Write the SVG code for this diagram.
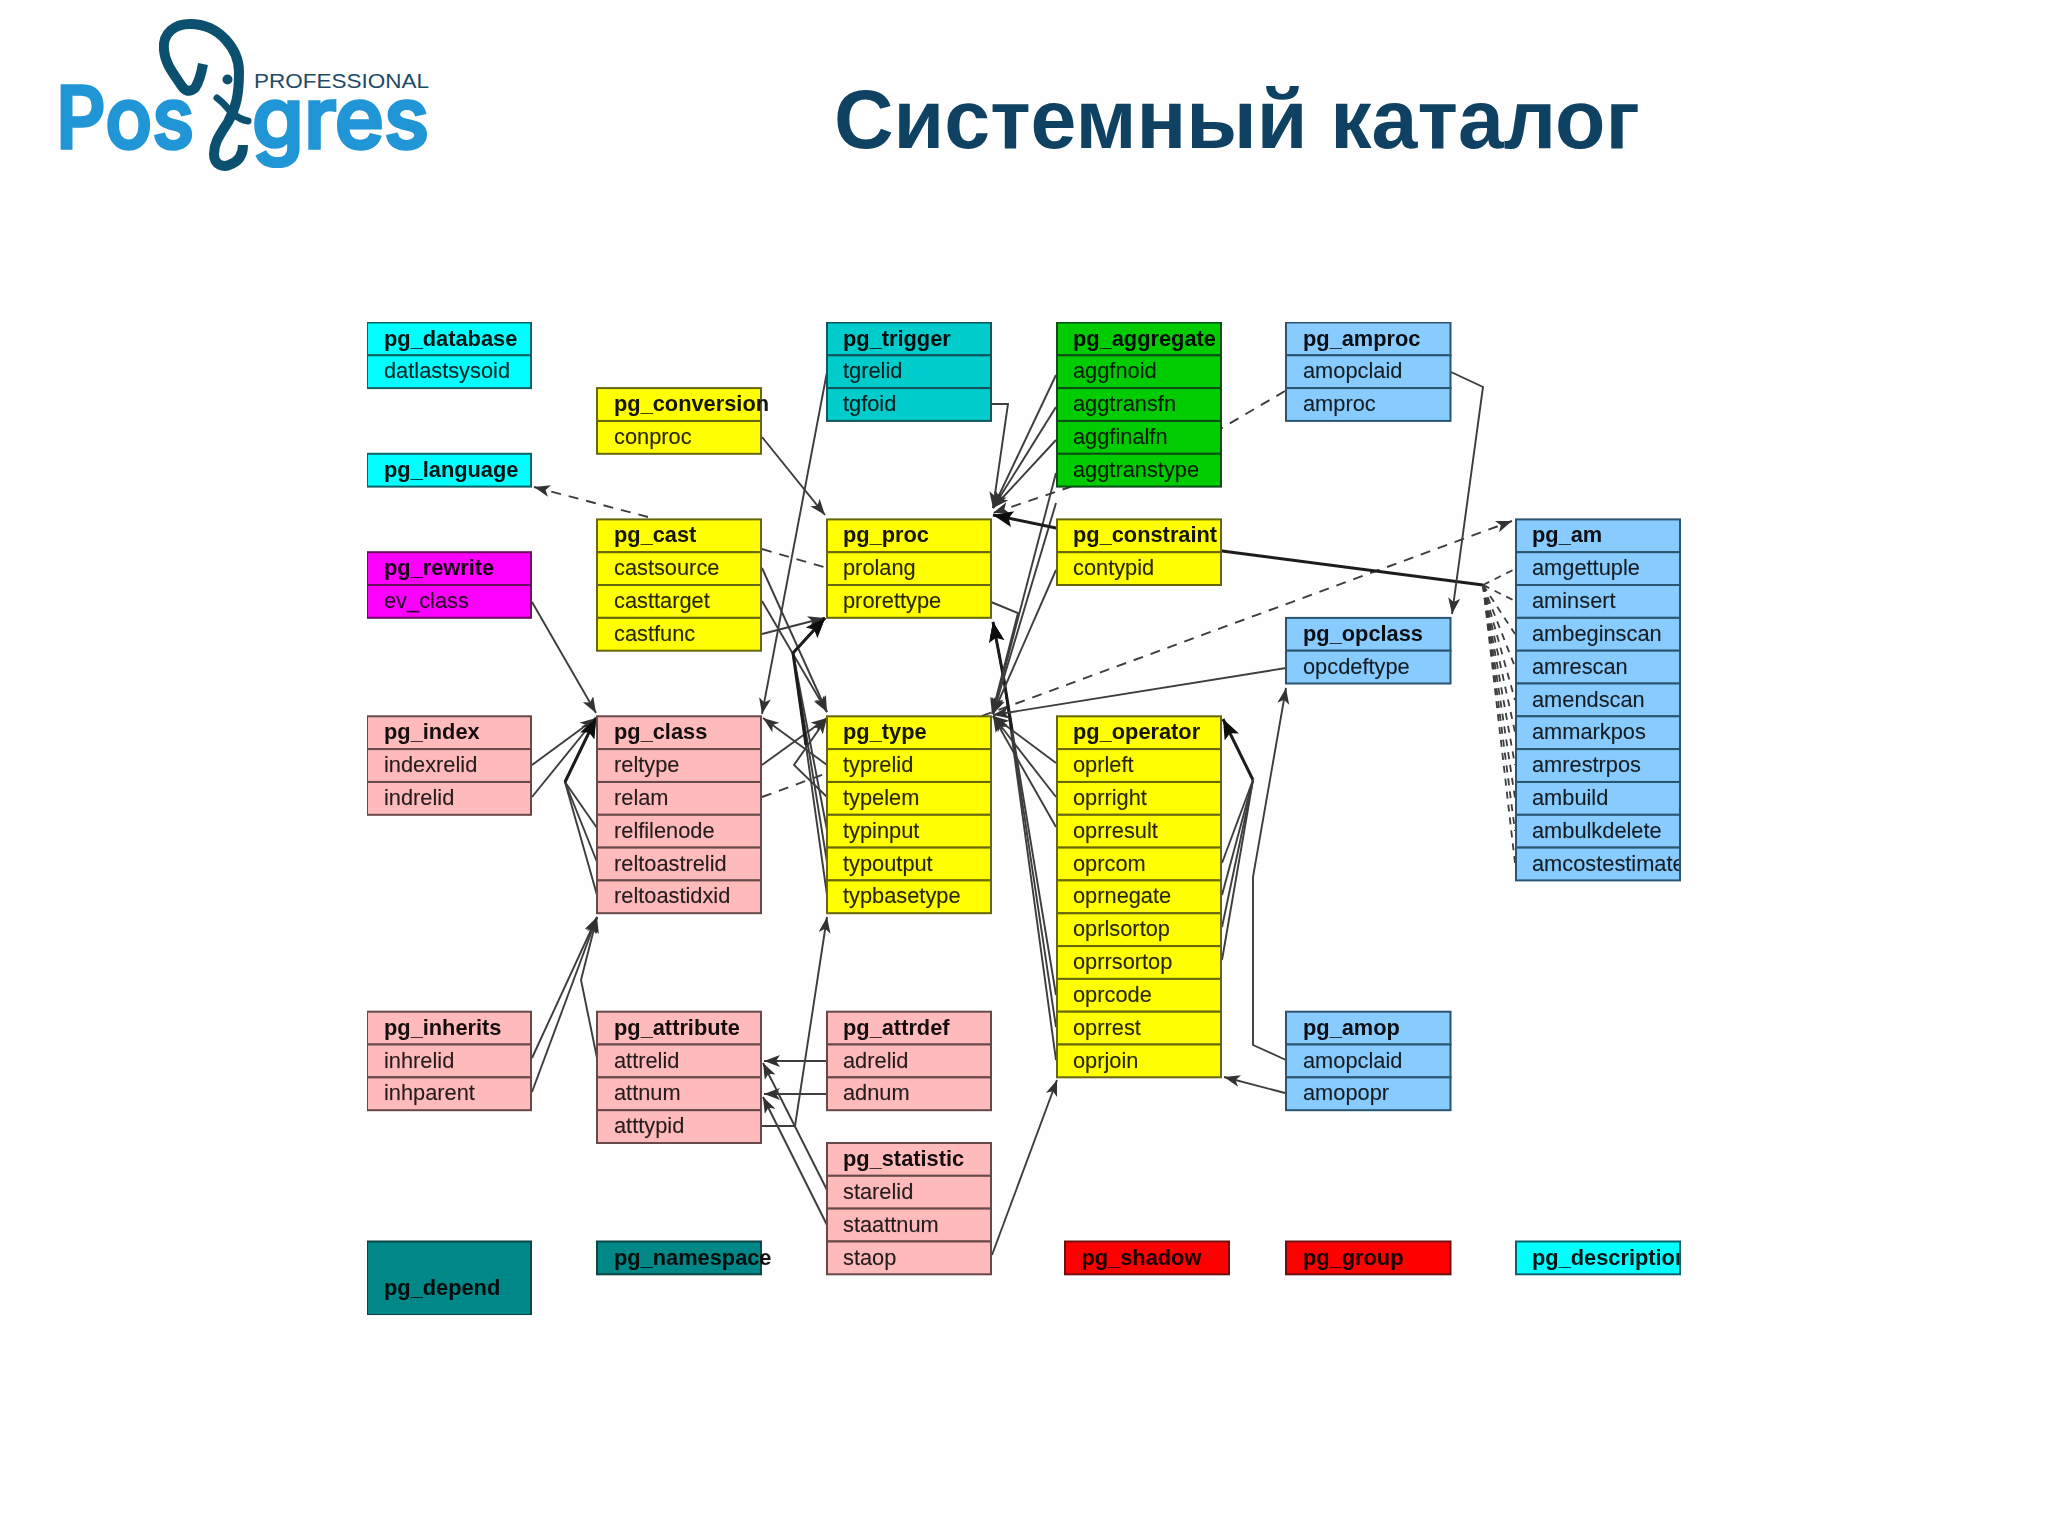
<svg xmlns="http://www.w3.org/2000/svg" width="2048" height="1535" viewBox="0 0 2048 1535">
<style>
text{font-family:"Liberation Sans",Arial,sans-serif}
.r{stroke-width:2}
.h{font-weight:700;font-size:21.8px;fill:#000;fill-opacity:.92}
.f{font-size:21.8px;fill:#000;fill-opacity:.85;stroke:#000;stroke-opacity:.25;stroke-width:.4}
.cyan .r{fill:#00ffff;stroke:#0a6468}
.teal .r{fill:#00cccc;stroke:#0a5458}
.green .r{fill:#00cc00;stroke:#0a4e14}
.mag .r{fill:#ff00ff;stroke:#6a0f62}
.pink .r{fill:#ffbbbb;stroke:#684848}
.yel .r{fill:#ffff00;stroke:#66660a}
.blue .r{fill:#88ccff;stroke:#2c5470}
.dark .r{fill:#008888;stroke:#0a4444}
.red .r{fill:#ff0000;stroke:#6e1010}
.c{fill:none;stroke:#3c3c3c;stroke-width:1.9}
.a{marker-end:url(#arr)}
.d{stroke-dasharray:10 8}
.e{stroke-dasharray:7 6;stroke-width:1.8}
.t{stroke-width:3;stroke:#1c1c1c;marker-end:url(#arrb)}
.logo{font-family:Inter,"Liberation Sans",sans-serif;font-size:85px;font-weight:500;fill:#2196d6;stroke:#2196d6;stroke-width:3.5}
</style>
<defs>
<marker id="arr" markerUnits="userSpaceOnUse" markerWidth="18" markerHeight="14" refX="16" refY="6" orient="auto"><path d="M0,0 L16,6 L0,12 L4,6 Z" fill="#333"/></marker>
<marker id="arrb" markerUnits="userSpaceOnUse" markerWidth="24" markerHeight="18" refX="20" refY="8" orient="auto"><path d="M0,0 L20,8 L0,16 L4,8 Z" fill="#111"/></marker>
<clipPath id="clipAm"><rect x="1515" y="847" width="164" height="33"/></clipPath>
<clipPath id="clipDesc"><rect x="1515" y="1241" width="164" height="33"/></clipPath>
<filter id="soft" x="0" y="0" width="1" height="1"><feGaussianBlur stdDeviation="0.55"/></filter>
</defs>
<rect width="2048" height="1535" fill="#fefefe"/>
<g id="logo">
<text class="logo" x="56" y="148" textLength="138" lengthAdjust="spacingAndGlyphs">Pos</text>
<text class="logo" x="252" y="148" textLength="177" lengthAdjust="spacingAndGlyphs">gres</text>
<text x="254" y="88" font-size="21" fill="#1f4a66" textLength="175" lengthAdjust="spacingAndGlyphs">PROFESSIONAL</text>
<path d="M203,64 C201,75 199,82 195,88 C189,93 185,91 181,85 C174,74 165,64 164,50 C162,32 176,24 190,24 C220,24 239,50 239,72 C239,95 236,108 228,122 C220,135 214,142 214,154 C214,166 224,167 229,165 C238,162 243,155 243,145" fill="none" stroke="#0c5070" stroke-width="10" stroke-linejoin="round"/>
<path d="M217,98 C224,103 227,108 232,113 C238,118 242,120 248,121" fill="none" stroke="#0c5070" stroke-width="7" stroke-linecap="round"/>
<circle cx="227.500" cy="79.500" r="5" fill="#0c5070"/>
</g>
<text id="title" x="834" y="148" font-size="82.500" font-weight="700" fill="#0f4262">Системный каталог</text>
<g id="diagram" filter="url(#soft)">
<g id="connectors">
<path class="c a d" d="M648,517 L534,487"/>
<path class="c a" d="M762,437 L825,515"/>
<path class="c d" d="M762,549 L827,568"/>
<path class="c a" d="M762,568 L827,712"/>
<path class="c a" d="M762,601 L827,712"/>
<path class="c a" d="M762,634 L824,618"/>
<path class="c a" d="M532,602 L596,713"/>
<path class="c a" d="M532,765 L596,718"/>
<path class="c a" d="M532,797 L596,718"/>
<path class="c a" d="M597,828 L565,782 L596,718"/>
<path class="c a" d="M597,862 L565,782 L596,718"/>
<path class="c a" d="M597,895 L565,782 L596,718"/>
<path class="c t" d="M565,782 L596,718"/>
<path class="c a" d="M532,1058 L597,917"/>
<path class="c a" d="M532,1092 L597,917"/>
<path class="c a" d="M597,1058 L581,980 L597,917"/>
<path class="c a" d="M827,372 L762,714"/>
<path class="c a" d="M827,765 L763,718"/>
<path class="c a" d="M762,765 L827,718"/>
<path class="c a d" d="M762,797 L1512,521"/>
<path class="c a" d="M827,797 L794,765 L827,718"/>
<path class="c a" d="M827,830 L793,653 L825,618"/>
<path class="c a" d="M827,862 L793,653 L825,618"/>
<path class="c a" d="M827,895 L793,653 L825,618"/>
<path class="c t" d="M806,745 L793,653 L825,618"/>
<path class="c a" d="M762,1126 L795,1126 L827,917"/>
<path class="c a" d="M827,1061 L764,1061"/>
<path class="c a" d="M827,1094 L764,1094"/>
<path class="c a" d="M827,1190 L763,1063"/>
<path class="c a" d="M827,1225 L763,1097"/>
<path class="c a" d="M992,1255 L1057,1080"/>
<path class="c a" d="M1285,1093 L1224,1077"/>
<path class="c a" d="M1286,1060 L1253,1045 L1253,877 L1286,688"/>
<path class="c a" d="M1056,763 L993,716"/>
<path class="c a" d="M1056,797 L993,716"/>
<path class="c a" d="M1056,827 L993,716"/>
<path class="c a" d="M1056,995 L1004,680 L993,622"/>
<path class="c a" d="M1056,1027 L1004,680 L993,622"/>
<path class="c a" d="M1056,1060 L1004,680 L993,622"/>
<path class="c t" d="M1012,730 L1004,680 L993,622"/>
<path class="c a" d="M991,602 L1018,613 L992,714"/>
<path class="c a" d="M1056,570 L993,714"/>
<path class="c a" d="M1056,375 L993,508"/>
<path class="c a" d="M1056,407 L993,508"/>
<path class="c a" d="M1056,440 L993,508"/>
<path class="c a" d="M1056,473 L993,714"/>
<path class="c a" d="M1056,503 L993,714"/>
<path class="c a d" d="M1285,391 L1222,428 L1070,487 L993,513"/>
<path class="c a" d="M991,404 L1008,404 L993,508"/>
<path class="c t" d="M1483,585 L1222,551 L1056,528 L993,515"/>
<path class="c a" d="M1286,668 L993,715"/>
<path class="c a" d="M1451,372 L1483,387 L1452,614"/>
<path class="c t" d="M1253,780 L1223,719"/>
<path class="c" d="M1222,863 L1253,780"/>
<path class="c" d="M1222,895 L1253,780"/>
<path class="c" d="M1222,927 L1253,780"/>
<path class="c" d="M1222,960 L1253,780"/>
<path class="c e" d="M1483,585 L1515,569"/>
<path class="c e" d="M1483,585 L1515,601"/>
<path class="c e" d="M1483,585 L1515,634"/>
<path class="c e" d="M1483,585 L1515,667"/>
<path class="c e" d="M1483,585 L1515,700"/>
<path class="c e" d="M1483,585 L1515,732"/>
<path class="c e" d="M1483,585 L1515,765"/>
<path class="c e" d="M1483,585 L1515,798"/>
<path class="c e" d="M1483,585 L1515,831"/>
<path class="c e" d="M1483,585 L1515,863"/>
</g>
<g id="pg_database" class="cyan"><rect class="r" x="367" y="322.500" width="164" height="32.800"/><rect class="r" x="367" y="355.300" width="164" height="32.800"/><text class="h" x="384" y="345.500">pg_database</text><text class="f" x="384" y="378.300">datlastsysoid</text></g>
<g id="pg_language" class="cyan"><rect class="r" x="367" y="453.800" width="164" height="32.800"/><text class="h" x="384" y="476.800">pg_language</text></g>
<g id="pg_rewrite" class="mag"><rect class="r" x="367" y="552.200" width="164" height="32.800"/><rect class="r" x="367" y="585" width="164" height="32.800"/><text class="h" x="384" y="575.200">pg_rewrite</text><text class="f" x="384" y="608">ev_class</text></g>
<g id="pg_index" class="pink"><rect class="r" x="367" y="716.300" width="164" height="32.800"/><rect class="r" x="367" y="749.100" width="164" height="32.800"/><rect class="r" x="367" y="782" width="164" height="32.800"/><text class="h" x="384" y="739.300">pg_index</text><text class="f" x="384" y="772.100">indexrelid</text><text class="f" x="384" y="805">indrelid</text></g>
<g id="pg_inherits" class="pink"><rect class="r" x="367" y="1011.700" width="164" height="32.800"/><rect class="r" x="367" y="1044.500" width="164" height="32.800"/><rect class="r" x="367" y="1077.400" width="164" height="32.800"/><text class="h" x="384" y="1034.700">pg_inherits</text><text class="f" x="384" y="1067.500">inhrelid</text><text class="f" x="384" y="1100.400">inhparent</text></g>
<g id="pg_depend" class="dark"><rect class="r" x="367" y="1241.500" width="164" height="73.500"/><text class="h" x="384" y="1295">pg_depend</text></g>
<g id="pg_conversion" class="yel"><rect class="r" x="597" y="388.100" width="164" height="32.800"/><rect class="r" x="597" y="421" width="164" height="32.800"/><text class="h" x="614" y="411.100">pg_conversion</text><text class="f" x="614" y="444">conproc</text></g>
<g id="pg_cast" class="yel"><rect class="r" x="597" y="519.400" width="164" height="32.800"/><rect class="r" x="597" y="552.200" width="164" height="32.800"/><rect class="r" x="597" y="585" width="164" height="32.800"/><rect class="r" x="597" y="617.900" width="164" height="32.800"/><text class="h" x="614" y="542.400">pg_cast</text><text class="f" x="614" y="575.200">castsource</text><text class="f" x="614" y="608">casttarget</text><text class="f" x="614" y="640.900">castfunc</text></g>
<g id="pg_class" class="pink"><rect class="r" x="597" y="716.300" width="164" height="32.800"/><rect class="r" x="597" y="749.100" width="164" height="32.800"/><rect class="r" x="597" y="782" width="164" height="32.800"/><rect class="r" x="597" y="814.800" width="164" height="32.800"/><rect class="r" x="597" y="847.600" width="164" height="32.800"/><rect class="r" x="597" y="880.400" width="164" height="32.800"/><text class="h" x="614" y="739.300">pg_class</text><text class="f" x="614" y="772.100">reltype</text><text class="f" x="614" y="805">relam</text><text class="f" x="614" y="837.800">relfilenode</text><text class="f" x="614" y="870.600">reltoastrelid</text><text class="f" x="614" y="903.400">reltoastidxid</text></g>
<g id="pg_attribute" class="pink"><rect class="r" x="597" y="1011.700" width="164" height="32.800"/><rect class="r" x="597" y="1044.500" width="164" height="32.800"/><rect class="r" x="597" y="1077.400" width="164" height="32.800"/><rect class="r" x="597" y="1110.200" width="164" height="32.800"/><text class="h" x="614" y="1034.700">pg_attribute</text><text class="f" x="614" y="1067.500">attrelid</text><text class="f" x="614" y="1100.400">attnum</text><text class="f" x="614" y="1133.200">atttypid</text></g>
<g id="pg_namespace" class="dark"><rect class="r" x="597" y="1241.500" width="164" height="32.800"/><text class="h" x="614" y="1264.500">pg_namespace</text></g>
<g id="pg_trigger" class="teal"><rect class="r" x="827" y="322.500" width="164" height="32.800"/><rect class="r" x="827" y="355.300" width="164" height="32.800"/><rect class="r" x="827" y="388.100" width="164" height="32.800"/><text class="h" x="843" y="345.500">pg_trigger</text><text class="f" x="843" y="378.300">tgrelid</text><text class="f" x="843" y="411.100">tgfoid</text></g>
<g id="pg_proc" class="yel"><rect class="r" x="827" y="519.400" width="164" height="32.800"/><rect class="r" x="827" y="552.200" width="164" height="32.800"/><rect class="r" x="827" y="585" width="164" height="32.800"/><text class="h" x="843" y="542.400">pg_proc</text><text class="f" x="843" y="575.200">prolang</text><text class="f" x="843" y="608">prorettype</text></g>
<g id="pg_type" class="yel"><rect class="r" x="827" y="716.300" width="164" height="32.800"/><rect class="r" x="827" y="749.100" width="164" height="32.800"/><rect class="r" x="827" y="782" width="164" height="32.800"/><rect class="r" x="827" y="814.800" width="164" height="32.800"/><rect class="r" x="827" y="847.600" width="164" height="32.800"/><rect class="r" x="827" y="880.400" width="164" height="32.800"/><text class="h" x="843" y="739.300">pg_type</text><text class="f" x="843" y="772.100">typrelid</text><text class="f" x="843" y="805">typelem</text><text class="f" x="843" y="837.800">typinput</text><text class="f" x="843" y="870.600">typoutput</text><text class="f" x="843" y="903.400">typbasetype</text></g>
<g id="pg_attrdef" class="pink"><rect class="r" x="827" y="1011.700" width="164" height="32.800"/><rect class="r" x="827" y="1044.500" width="164" height="32.800"/><rect class="r" x="827" y="1077.400" width="164" height="32.800"/><text class="h" x="843" y="1034.700">pg_attrdef</text><text class="f" x="843" y="1067.500">adrelid</text><text class="f" x="843" y="1100.400">adnum</text></g>
<g id="pg_statistic" class="pink"><rect class="r" x="827" y="1143" width="164" height="32.800"/><rect class="r" x="827" y="1175.800" width="164" height="32.800"/><rect class="r" x="827" y="1208.600" width="164" height="32.800"/><rect class="r" x="827" y="1241.500" width="164" height="32.800"/><text class="h" x="843" y="1166">pg_statistic</text><text class="f" x="843" y="1198.800">starelid</text><text class="f" x="843" y="1231.600">staattnum</text><text class="f" x="843" y="1264.500">staop</text></g>
<g id="pg_aggregate" class="green"><rect class="r" x="1057" y="322.500" width="164" height="32.800"/><rect class="r" x="1057" y="355.300" width="164" height="32.800"/><rect class="r" x="1057" y="388.100" width="164" height="32.800"/><rect class="r" x="1057" y="421" width="164" height="32.800"/><rect class="r" x="1057" y="453.800" width="164" height="32.800"/><text class="h" x="1073" y="345.500">pg_aggregate</text><text class="f" x="1073" y="378.300">aggfnoid</text><text class="f" x="1073" y="411.100">aggtransfn</text><text class="f" x="1073" y="444">aggfinalfn</text><text class="f" x="1073" y="476.800">aggtranstype</text></g>
<g id="pg_constraint" class="yel"><rect class="r" x="1057" y="519.400" width="164" height="32.800"/><rect class="r" x="1057" y="552.200" width="164" height="32.800"/><text class="h" x="1073" y="542.400">pg_constraint</text><text class="f" x="1073" y="575.200">contypid</text></g>
<g id="pg_operator" class="yel"><rect class="r" x="1057" y="716.300" width="164" height="32.800"/><rect class="r" x="1057" y="749.100" width="164" height="32.800"/><rect class="r" x="1057" y="782" width="164" height="32.800"/><rect class="r" x="1057" y="814.800" width="164" height="32.800"/><rect class="r" x="1057" y="847.600" width="164" height="32.800"/><rect class="r" x="1057" y="880.400" width="164" height="32.800"/><rect class="r" x="1057" y="913.300" width="164" height="32.800"/><rect class="r" x="1057" y="946.100" width="164" height="32.800"/><rect class="r" x="1057" y="978.900" width="164" height="32.800"/><rect class="r" x="1057" y="1011.700" width="164" height="32.800"/><rect class="r" x="1057" y="1044.500" width="164" height="32.800"/><text class="h" x="1073" y="739.300">pg_operator</text><text class="f" x="1073" y="772.100">oprleft</text><text class="f" x="1073" y="805">oprright</text><text class="f" x="1073" y="837.800">oprresult</text><text class="f" x="1073" y="870.600">oprcom</text><text class="f" x="1073" y="903.400">oprnegate</text><text class="f" x="1073" y="936.300">oprlsortop</text><text class="f" x="1073" y="969.100">oprrsortop</text><text class="f" x="1073" y="1001.900">oprcode</text><text class="f" x="1073" y="1034.700">oprrest</text><text class="f" x="1073" y="1067.500">oprjoin</text></g>
<g id="pg_shadow" class="red"><rect class="r" x="1065" y="1241.500" width="164" height="32.800"/><text class="h" x="1081.500" y="1264.500">pg_shadow</text></g>
<g id="pg_amproc" class="blue"><rect class="r" x="1286" y="322.500" width="164.500" height="32.800"/><rect class="r" x="1286" y="355.300" width="164.500" height="32.800"/><rect class="r" x="1286" y="388.100" width="164.500" height="32.800"/><text class="h" x="1303" y="345.500">pg_amproc</text><text class="f" x="1303" y="378.300">amopclaid</text><text class="f" x="1303" y="411.100">amproc</text></g>
<g id="pg_opclass" class="blue"><rect class="r" x="1286" y="617.900" width="164.500" height="32.800"/><rect class="r" x="1286" y="650.700" width="164.500" height="32.800"/><text class="h" x="1303" y="640.900">pg_opclass</text><text class="f" x="1303" y="673.700">opcdeftype</text></g>
<g id="pg_amop" class="blue"><rect class="r" x="1286" y="1011.700" width="164.500" height="32.800"/><rect class="r" x="1286" y="1044.500" width="164.500" height="32.800"/><rect class="r" x="1286" y="1077.400" width="164.500" height="32.800"/><text class="h" x="1303" y="1034.700">pg_amop</text><text class="f" x="1303" y="1067.500">amopclaid</text><text class="f" x="1303" y="1100.400">amopopr</text></g>
<g id="pg_group" class="red"><rect class="r" x="1286" y="1241.500" width="164.500" height="32.800"/><text class="h" x="1303" y="1264.500">pg_group</text></g>
<g id="pg_am" class="blue"><rect class="r" x="1516" y="519.400" width="164" height="32.800"/><rect class="r" x="1516" y="552.200" width="164" height="32.800"/><rect class="r" x="1516" y="585" width="164" height="32.800"/><rect class="r" x="1516" y="617.900" width="164" height="32.800"/><rect class="r" x="1516" y="650.700" width="164" height="32.800"/><rect class="r" x="1516" y="683.500" width="164" height="32.800"/><rect class="r" x="1516" y="716.300" width="164" height="32.800"/><rect class="r" x="1516" y="749.100" width="164" height="32.800"/><rect class="r" x="1516" y="782" width="164" height="32.800"/><rect class="r" x="1516" y="814.800" width="164" height="32.800"/><rect class="r" x="1516" y="847.600" width="164" height="32.800"/><text class="h" x="1532" y="542.400">pg_am</text><text class="f" x="1532" y="575.200">amgettuple</text><text class="f" x="1532" y="608">aminsert</text><text class="f" x="1532" y="640.900">ambeginscan</text><text class="f" x="1532" y="673.700">amrescan</text><text class="f" x="1532" y="706.500">amendscan</text><text class="f" x="1532" y="739.300">ammarkpos</text><text class="f" x="1532" y="772.100">amrestrpos</text><text class="f" x="1532" y="805">ambuild</text><text class="f" x="1532" y="837.800">ambulkdelete</text><text class="f" x="1532" y="870.600" clip-path="url(#clipAm)">amcostestimate</text></g>
<g id="pg_description" class="cyan"><rect class="r" x="1516" y="1241.500" width="164" height="32.800"/><text class="h" x="1532" y="1264.500" clip-path="url(#clipDesc)">pg_description</text></g>
</g>
</svg>
